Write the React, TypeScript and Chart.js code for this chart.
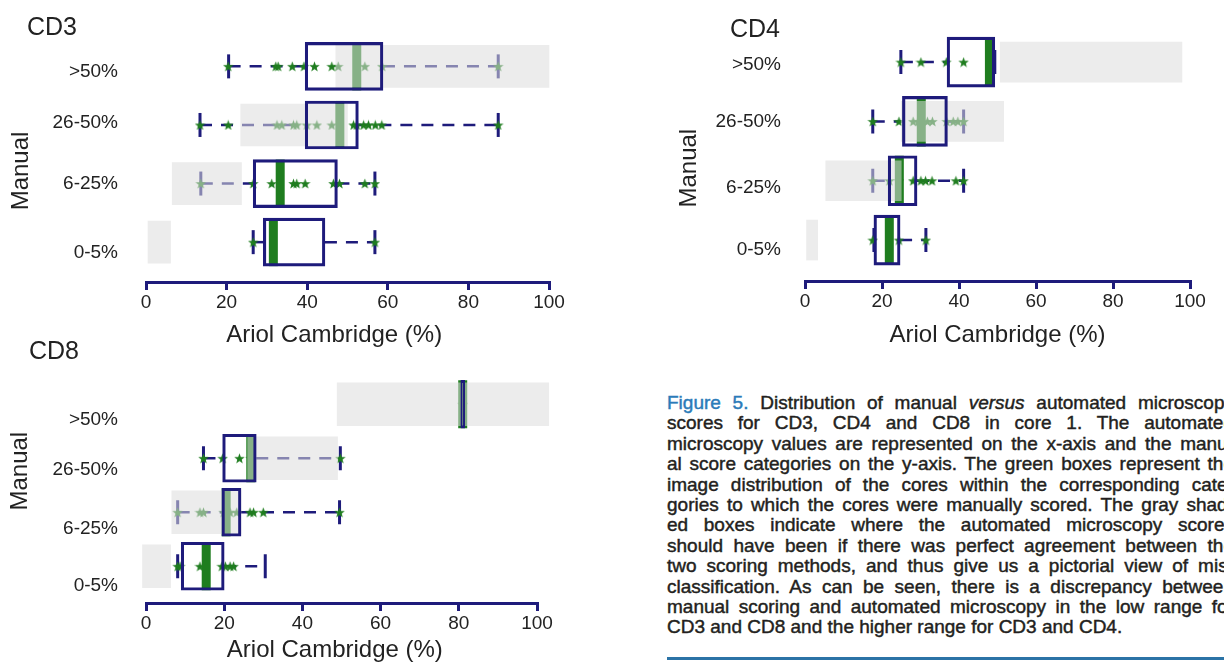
import React, { useEffect, useRef } from 'react';
import { Chart, registerables } from 'chart.js';

Chart.register(...registerables);

// ---------- data ----------
const categories = ['0-5%', '6-25%', '26-50%', '>50%'];
const xTicks = [0, 20, 40, 60, 80, 100];

// CD3
const cd3Min = [26.6, 13.6, 13.4, 20.5];
const cd3Q1 = [29.1, 26.6, 39.5, 39.5];
const cd3Median = [31.6, 33.3, 48.1, 52.3];
const cd3Q3 = [44.4, 47.5, 52.7, 58.8];
const cd3Max = [56.8, 56.8, 87.4, 87.4];
const cd3ExpectedLow = [0.5, 6.5, 23.5, 47.1];
const cd3ExpectedHigh = [6.1, 23.7, 50, 100];
const cd3Points = [
  [26.6, 56.8],
  [13.6, 26.6, 31.2, 36.6, 37.4, 39.5, 46.5, 48.0, 54.3, 56.8],
  [13.4, 20.4, 32.5, 33.7, 36.6, 37.4, 39.9, 42.4, 46.1, 51.5, 52.3, 54.0, 55.2, 56.9, 58.5, 87.4],
  [20.4, 32.2, 32.8, 36.3, 39.2, 41.8, 46.1, 47.7, 54.3, 58.6, 87.4],
];

// CD4
const cd4Min = [17.9, 17.6, 17.6, 24.9];
const cd4Q1 = [17.9, 21.6, 25.3, 36.9];
const cd4Median = [21.9, 24.5, 30.2, 47.9];
const cd4Q3 = [24.7, 29.1, 37.0, 49.3];
const cd4Max = [31.4, 41.2, 41.2, 49.3];
const cd4ExpectedLow = [0, 5.4, 25, 50.7];
const cd4ExpectedHigh = [3.3, 25, 51.6, 97.9];
const cd4Points = [
  [17.6, 24.4, 31.4],
  [17.6, 21.9, 24.4, 28.1, 30.1, 31.3, 33.0, 39.2, 41.2],
  [17.6, 24.4, 28.1, 29.4, 31.8, 33.1, 36.8, 38.5, 39.7, 41.2],
  [24.9, 30.1, 36.7, 41.2, 48.1],
];

// CD8
const cd8Min = [8.1, 8.1, 14.7, 81];
const cd8Q1 = [9.0, 19.4, 19.6, 80.5];
const cd8Median = [15.4, 20.5, 26.8, 81];
const cd8Q3 = [20.0, 24.3, 28.2, 81.5];
const cd8Max = [30.5, 49.5, 49.7, 81];
const cd8ExpectedLow = [-0.9, 6.6, 26, 48.9];
const cd8ExpectedHigh = [6.3, 24.3, 49, 103];
const cd8Points = [
  [8.1, 8.7, 13.8, 19.4, 20.3, 21.5, 22.4],
  [8.1, 13.8, 14.7, 19.9, 21.5, 23.2, 26.6, 27.5, 30.0, 49.5],
  [14.7, 19.6, 23.9, 26.8, 49.7],
  [81],
];

const captionLines = [
  'scores for CD3, CD4 and CD8 in core 1. The automated',
  'microscopy values are represented on the x-axis and the manu-',
  'al score categories on the y-axis. The green boxes represent the',
  'image distribution of the cores within the corresponding cate-',
  'gories to which the cores were manually scored. The gray shad-',
  'ed boxes indicate where the automated microscopy scores',
  'should have been if there was perfect agreement between the',
  'two scoring methods, and thus give us a pictorial view of mis-',
  'classification. As can be seen, there is a discrepancy between',
  'manual scoring and automated microscopy in the low range for',
  'CD3 and CD8 and the higher range for CD3 and CD4.',
];

// ---------- styles ----------
const NAVY = '#1e1b7b';
const GREEN = '#1f7d1f';
const GRAY_OVERLAY = 'rgba(220,220,220,0.55)';
const TEXT = '#222222';
const FONT = '"Liberation Sans", Arial, Helvetica, sans-serif';

type Panel = {
  min: number[]; q1: number[]; median: number[]; q3: number[]; max: number[];
  expLow: number[]; expHigh: number[]; points: number[][];
  left: number; top: number; width: number; height: number;
  axisWidth: number; xAxisHeight: number; padTop: number; padRight: number;
  yMin: number; yMax: number; labelPos: number[]; yPad: number; yTitlePad: number;
  boxPx: number; grayPx: number; medianR: number;
  xTitle: string; yTitle: string;
};

const NB = '\u00a0';

const panels: Panel[] = [
  {
    min: cd3Min, q1: cd3Q1, median: cd3Median, q3: cd3Q3, max: cd3Max,
    expLow: cd3ExpectedLow, expHigh: cd3ExpectedHigh, points: cd3Points,
    left: 0, top: 0, width: 600, height: 350,
    axisWidth: 146, xAxisHeight: 68, padTop: 40, padRight: 51,
    yMin: -0.68, yMax: 3.45, labelPos: [-0.18, 1.0, 2.03, 2.9], yPad: 28, yTitlePad: 7,
    boxPx: 48, grayPx: 42, medianR: 24,
    xTitle: 'Ariol Cambridge (%)' + NB.repeat(4), yTitle: 'Manual' + NB.repeat(3),
  },
  {
    min: cd4Min, q1: cd4Q1, median: cd4Median, q3: cd4Q3, max: cd4Max,
    expLow: cd4ExpectedLow, expHigh: cd4ExpectedHigh, points: cd4Points,
    left: 668, top: 0, width: 556, height: 350,
    axisWidth: 137, xAxisHeight: 69, padTop: 22, padRight: 15,
    yMin: -0.69, yMax: 3.45, labelPos: [-0.16, 0.89, 2.0, 2.95], yPad: 24, yTitlePad: 7,
    boxPx: 50, grayPx: 40, medianR: 25,
    xTitle: 'Ariol Cambridge (%)', yTitle: 'Manual' + NB.repeat(3),
  },
  {
    min: cd8Min, q1: cd8Q1, median: cd8Median, q3: cd8Q3, max: cd8Max,
    expLow: cd8ExpectedLow, expHigh: cd8ExpectedHigh, points: cd8Points,
    left: 0, top: 340, width: 600, height: 325,
    axisWidth: 146, xAxisHeight: 62, padTop: 10, padRight: 63,
    yMin: -0.68, yMax: 3.46, labelPos: [-0.37, 0.69, 1.78, 2.72], yPad: 28, yTitlePad: 6,
    boxPx: 48, grayPx: 43, medianR: 24,
    xTitle: 'Ariol Cambridge (%)' + NB.repeat(2), yTitle: NB.repeat(6) + 'Manual',
  },
];

const panelTitles = [
  { text: 'CD3', left: 27, top: 12 },
  { text: 'CD4', left: 730, top: 14 },
  { text: 'CD8', left: 29, top: 336 },
];

function makeStar(color: string, size: number): HTMLCanvasElement {
  const c = document.createElement('canvas');
  c.width = size;
  c.height = size;
  const ctx = c.getContext('2d')!;
  const cx = size / 2;
  const cy = size / 2 + 0.5;
  const R = size / 2;
  const r = R * 0.42;
  ctx.beginPath();
  for (let k = 0; k < 10; k++) {
    const rad = k % 2 === 0 ? R : r;
    const a = -Math.PI / 2 + (k * Math.PI) / 5;
    ctx.lineTo(cx + rad * Math.cos(a), cy + rad * Math.sin(a));
  }
  ctx.closePath();
  ctx.fillStyle = color;
  ctx.fill();
  return c;
}

function BoxPanel({ p }: { p: Panel }) {
  const ref = useRef<HTMLCanvasElement>(null);
  useEffect(() => {
    if (!ref.current) return;
    const star = makeStar(GREEN, 11);
    const datasets: any[] = [];
    categories.forEach((_, i) => {
      datasets.push({
        type: 'line',
        data: [{ x: p.min[i], y: i }, { x: p.q1[i], y: i }],
        borderColor: NAVY, borderWidth: 2.5, borderDash: [12, 9], pointRadius: 0, order: 6,
      });
      datasets.push({
        type: 'line',
        data: [{ x: p.q3[i], y: i }, { x: p.max[i], y: i }],
        borderColor: NAVY, borderWidth: 2.5, borderDash: [12, 9], pointRadius: 0, order: 6,
      });
    });
    datasets.push({
      type: 'line', showLine: false,
      data: categories.flatMap((_, i) => [{ x: p.min[i], y: i }, { x: p.max[i], y: i }]),
      pointStyle: 'line', pointRotation: 90, pointRadius: 12,
      pointBorderWidth: 3, pointBorderColor: NAVY, order: 5,
    });
    datasets.push({
      type: 'line', showLine: false,
      data: p.points.flatMap((arr, i) => arr.map((v) => ({ x: v, y: i }))),
      pointStyle: star, pointRadius: 5, order: 4,
    });
    datasets.push({
      type: 'line', showLine: false,
      data: p.median.map((v, i) => ({ x: v, y: i })),
      pointStyle: 'line', pointRotation: 90, pointRadius: p.medianR,
      pointBorderWidth: 9, pointBorderColor: GREEN, order: 3,
    });
    datasets.push({
      type: 'bar',
      data: p.expLow.map((lo, i) => ({ y: i, x: [lo, p.expHigh[i]] })),
      backgroundColor: GRAY_OVERLAY, borderWidth: 0, grouped: false,
      barPercentage: 1, categoryPercentage: 1, maxBarThickness: p.grayPx, order: 2, clip: false,
    });
    datasets.push({
      type: 'bar',
      data: p.q1.map((lo, i) => ({ y: i, x: [lo, p.q3[i]] })),
      backgroundColor: 'rgba(0,0,0,0)', borderColor: NAVY, borderWidth: 2.5, borderSkipped: false,
      grouped: false, barPercentage: 1, categoryPercentage: 1, maxBarThickness: p.boxPx, order: 1,
    });

    const chart = new Chart(ref.current, {
      type: 'bar',
      data: { datasets },
      options: {
        indexAxis: 'y',
        responsive: false,
        animation: false,
        events: [],
        layout: { padding: { top: p.padTop, right: p.padRight, left: 0, bottom: 0 } },
        plugins: {
          legend: { display: false },
          tooltip: { enabled: false },
          colors: { enabled: false },
        } as any,
        scales: {
          x: {
            type: 'linear', min: 0, max: 100, position: 'bottom',
            afterBuildTicks: (s: any) => { s.ticks = xTicks.map((v) => ({ value: v })); },
            afterFit: (s: any) => { s.height = p.xAxisHeight; },
            grid: { drawOnChartArea: false, drawTicks: true, tickLength: 8, color: NAVY, lineWidth: 3 },
            border: { display: true, color: NAVY, width: 3 },
            ticks: { font: { family: FONT, size: 19 }, color: TEXT, padding: 1, maxRotation: 0, autoSkip: false },
            title: { display: true, text: p.xTitle, font: { family: FONT, size: 24 }, color: TEXT, padding: { top: 0, bottom: 0 } },
          },
          y: {
            type: 'linear', min: p.yMin, max: p.yMax, offset: false, position: 'left',
            afterBuildTicks: (s: any) => { s.ticks = p.labelPos.map((v) => ({ value: v })); },
            afterFit: (s: any) => { s.width = p.axisWidth; },
            grid: { display: false, drawTicks: false },
            border: { display: false },
            ticks: {
              callback: (_v: any, i: number) => categories[i],
              font: { family: FONT, size: 19 }, color: TEXT, padding: p.yPad, autoSkip: false,
            },
            title: { display: true, text: p.yTitle, font: { family: FONT, size: 24 }, color: TEXT, padding: { top: p.yTitlePad, bottom: 0 } },
          },
        } as any,
      } as any,
    });
    return () => chart.destroy();
  }, [p]);
  return (
    <canvas
      ref={ref}
      width={p.width}
      height={p.height}
      style={{ position: 'absolute', left: p.left, top: p.top, width: p.width, height: p.height }}
    />
  );
}

export default function App() {
  const lineStyle: React.CSSProperties = {
    height: 20.4, lineHeight: '20.4px', textAlign: 'justify', textAlignLast: 'justify', whiteSpace: 'nowrap',
  };
  return (
    <div style={{ position: 'absolute', left: 0, top: 0, width: 1224, height: 667, overflow: 'hidden', background: '#ffffff' }}>
      {panels.map((p, i) => <BoxPanel key={i} p={p} />)}
      {panelTitles.map((t) => (
        <div key={t.text} style={{ position: 'absolute', left: t.left, top: t.top, font: `25px ${FONT}`, lineHeight: '28px', color: TEXT }}>
          {t.text}
        </div>
      ))}
      <div
        style={{
          position: 'absolute', left: 667, top: 393, width: 567, font: `19px ${FONT}`, color: '#231f20',
          WebkitTextStrokeWidth: '0.45px',
        } as React.CSSProperties}
      >
        <div style={lineStyle}>
          <span style={{ color: '#2b7bb9' }}>Figure 5.</span> Distribution of manual <i>versus</i> automated microscopy
        </div>
        {captionLines.map((l, i) => (
          <div key={i} style={i === captionLines.length - 1 ? { ...lineStyle, textAlignLast: 'left' } : lineStyle}>{l}</div>
        ))}
      </div>
      <div style={{ position: 'absolute', left: 667, top: 657, width: 600, height: 3, background: '#2b73a6' }} />
    </div>
  );
}
